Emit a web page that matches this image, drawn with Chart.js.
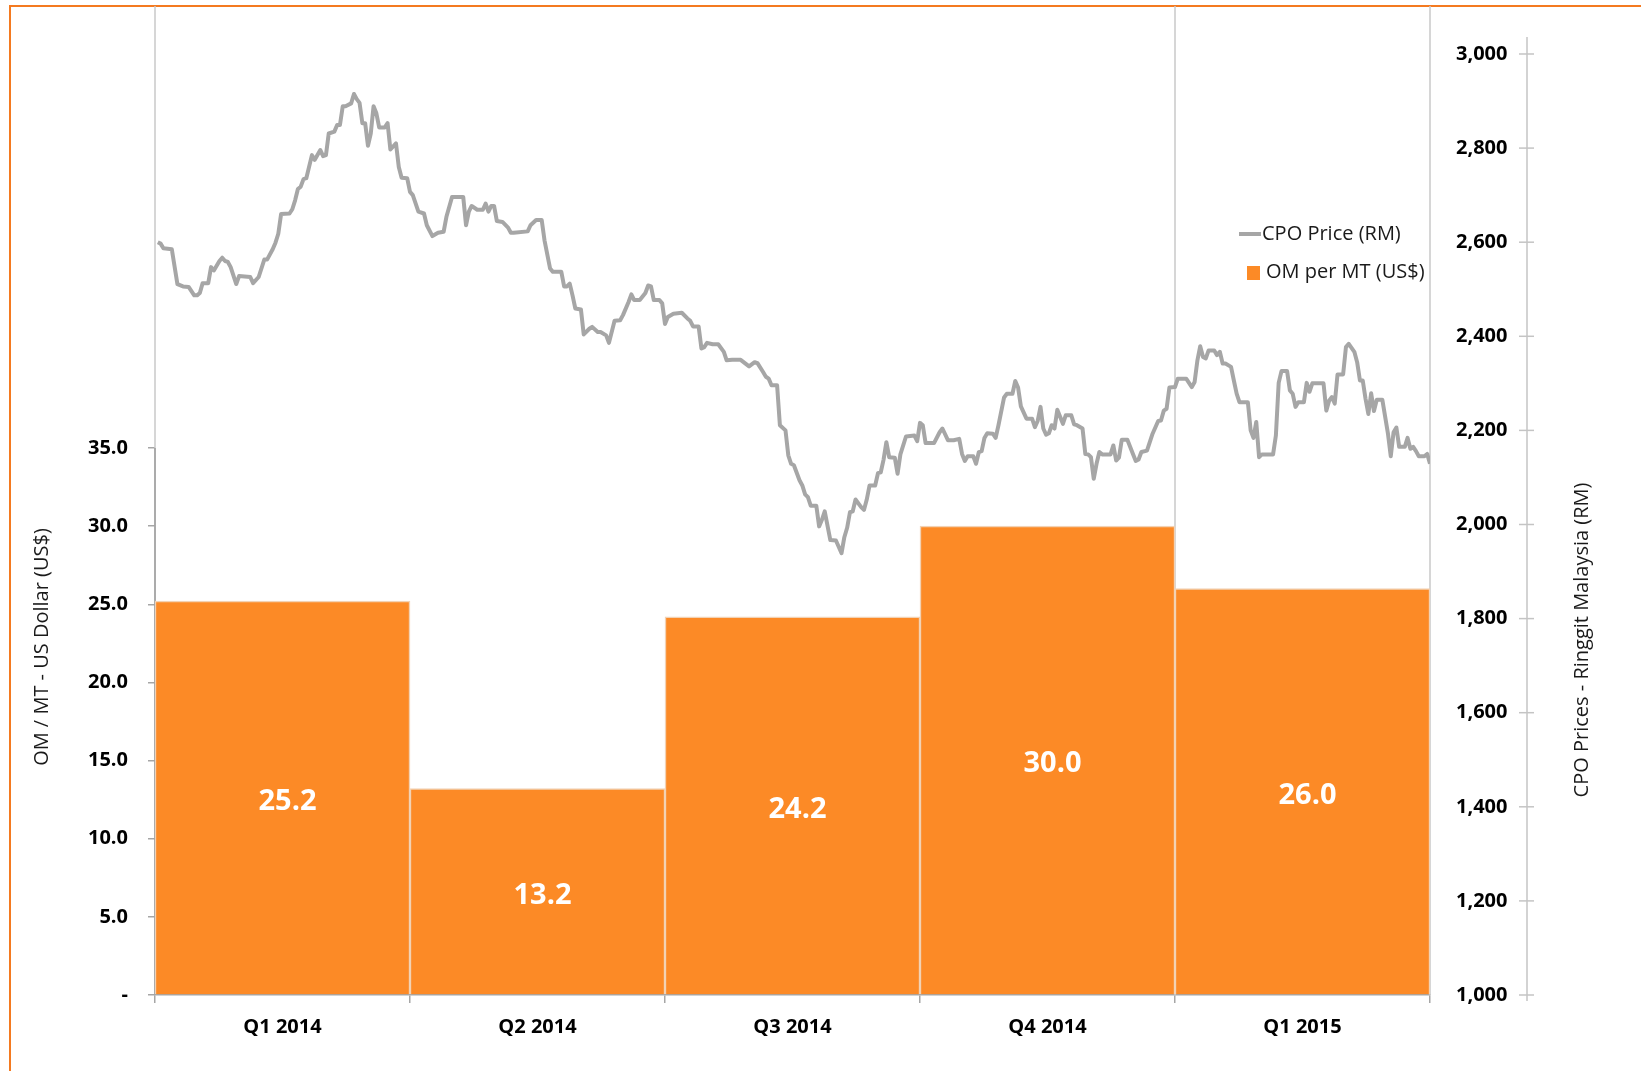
<!DOCTYPE html>
<html>
<head>
<meta charset="utf-8">
<title>OM per MT vs CPO Price</title>
<script src="https://cdn.jsdelivr.net/npm/chart.js@4.4.0/dist/chart.umd.min.js"></script>
<style>
    html, body { margin: 0; padding: 0; background: #fff; overflow: hidden; }
    #wrap { position: relative; width: 1641px; height: 1071px; }
    #frame {
        position: absolute; left: 9px; top: 5px; width: 1640px; height: 1080px;
        border-top: 2px solid #f47a20; border-left: 2px solid #f47a20;
    }
    #chart { position: absolute; left: 0; top: 0; }
</style>
</head>
<body>
<div id="wrap">
    <div id="frame"></div>
    <canvas id="chart" width="1641" height="1071"></canvas>
</div>
<script>
/* =========================================================
   DATA
========================================================= */
const quarters = ['Q1 2014', 'Q2 2014', 'Q3 2014', 'Q4 2014', 'Q1 2015'];
const omPerMt = [25.2, 13.2, 24.2, 30.0, 26.0];

// CPO price, days counted from 1 Jan 2014 (455 days to 31 Mar 2015)
const cpoDay = [
    1, 2, 3, 6, 8, 10, 12, 14, 15, 16,
    17, 19, 20, 21, 23, 24, 25, 26, 27, 29,
    30, 34, 35, 37, 39, 40, 42, 43, 44, 45,
    48, 49, 50, 51, 52, 53, 54, 56, 57, 59,
    60, 61, 62, 64, 65, 66, 67, 68, 70, 71,
    72, 73, 74, 75, 76, 77, 78, 79, 80, 82,
    83, 84, 86, 87, 88, 90, 91, 92, 94, 96,
    97, 99, 101, 103, 104, 106, 110, 111, 112, 113,
    115, 117, 118, 119, 120, 121, 122, 124, 126, 127,
    128, 133, 134, 136, 138, 139, 141, 142, 145, 146,
    147, 148, 149, 150, 152, 153, 155, 156, 158, 159,
    161, 162, 164, 166, 167, 169, 170, 171, 173, 175,
    176, 177, 178, 180, 181, 182, 183, 185, 188, 190,
    191, 192, 194, 195, 196, 197, 199, 201, 203, 204,
    206, 209, 212, 214, 215, 217, 218, 219, 220, 222,
    223, 225, 226, 227, 228, 230, 231, 232, 233, 234,
    236, 237, 238, 239, 241, 243, 245, 246, 247, 248,
    249, 250, 252, 253, 254, 255, 257, 258, 259, 260,
    261, 262, 264, 265, 266, 268, 271, 272, 273, 274,
    275, 278, 280, 281, 283, 285, 287, 288, 289, 290,
    292, 293, 294, 295, 296, 297, 299, 300, 301, 303,
    304, 306, 307, 308, 309, 311, 313, 314, 315, 316,
    317, 318, 319, 320, 321, 322, 324, 325, 327, 328,
    329, 331, 332, 333, 334, 335, 336, 337, 338, 341,
    342, 343, 344, 345, 347, 349, 350, 351, 352, 354,
    356, 358, 359, 360, 361, 362, 364, 365, 368, 370,
    371, 372, 373, 374, 375, 376, 378, 379, 380, 381,
    382, 384, 385, 386, 387, 390, 391, 392, 393, 394,
    395, 399, 400, 401, 402, 404, 405, 406, 407, 408,
    410, 411, 412, 413, 417, 418, 419, 420, 421, 422,
    424, 425, 426, 428, 429, 430, 431, 432, 433, 434,
    435, 436, 438, 440, 441, 442, 443, 444, 446, 447,
    448, 449, 450, 451, 453, 454, 455
];
const cpoPrice = [
    2600, 2597, 2587, 2585, 2511, 2506, 2505, 2487, 2487, 2492,
    2513, 2513, 2547, 2540, 2560, 2567, 2560, 2558, 2547, 2511,
    2528, 2526, 2513, 2526, 2563, 2563, 2585, 2599, 2618, 2660,
    2661, 2670, 2689, 2713, 2718, 2734, 2736, 2785, 2775, 2796,
    2783, 2785, 2831, 2835, 2849, 2849, 2889, 2889, 2895, 2915,
    2904, 2896, 2853, 2853, 2805, 2831, 2889, 2874, 2844, 2844,
    2853, 2797, 2810, 2760, 2737, 2736, 2707, 2700, 2665, 2661,
    2636, 2613, 2620, 2622, 2654, 2696, 2696, 2636, 2665, 2677,
    2669, 2669, 2682, 2665, 2677, 2677, 2645, 2643, 2631, 2620,
    2620, 2623, 2636, 2647, 2647, 2604, 2544, 2537, 2537, 2506,
    2506, 2512, 2487, 2459, 2457, 2404, 2416, 2420, 2409, 2409,
    2402, 2386, 2433, 2434, 2445, 2473, 2489, 2477, 2477, 2492,
    2508, 2506, 2477, 2477, 2470, 2426, 2441, 2448, 2450, 2438,
    2433, 2421, 2421, 2374, 2377, 2386, 2383, 2383, 2367, 2349,
    2350, 2350, 2336, 2345, 2343, 2324, 2314, 2310, 2296, 2296,
    2211, 2200, 2147, 2129, 2126, 2094, 2083, 2064, 2058, 2040,
    2040, 1996, 2010, 2028, 1967, 1966, 1939, 1973, 1993, 2026,
    2028, 2053, 2037, 2031, 2053, 2083, 2083, 2109, 2111, 2138,
    2175, 2143, 2142, 2108, 2149, 2187, 2189, 2177, 2216, 2211,
    2173, 2173, 2196, 2204, 2179, 2179, 2182, 2150, 2135, 2145,
    2145, 2129, 2154, 2156, 2184, 2194, 2193, 2184, 2211, 2270,
    2278, 2278, 2305, 2291, 2251, 2225, 2225, 2207, 2220, 2250,
    2204, 2191, 2194, 2211, 2204, 2244, 2214, 2232, 2232, 2213,
    2211, 2204, 2150, 2149, 2143, 2097, 2129, 2154, 2149, 2149,
    2168, 2136, 2142, 2180, 2180, 2150, 2135, 2138, 2154, 2157,
    2193, 2220, 2221, 2242, 2246, 2291, 2292, 2310, 2310, 2292,
    2303, 2349, 2379, 2356, 2353, 2370, 2370, 2360, 2367, 2342,
    2342, 2335, 2306, 2278, 2260, 2260, 2200, 2184, 2218, 2143,
    2149, 2149, 2189, 2301, 2326, 2326, 2285, 2278, 2250, 2260,
    2260, 2301, 2282, 2300, 2300, 2242, 2263, 2271, 2257, 2319,
    2319, 2377, 2384, 2367, 2345, 2306, 2306, 2267, 2235, 2279,
    2241, 2265, 2265, 2193, 2145, 2196, 2206, 2165, 2165, 2184,
    2161, 2165, 2156, 2145, 2145, 2150, 2129
];

const periodDays = 455;
const omTickMax = 35;       // left axis labelled 0 - 35
const cpoTickRange = [1000, 3000];

/* =========================================================
   STYLE
========================================================= */
const barColor = '#fc8a26';
const lineColor = '#a6a6a6';
const axisGray = '#a6a6a6';

Chart.defaults.font.family = "'Open Sans', sans-serif";
Chart.defaults.color = '#000';

/* =========================================================
   HELPER
========================================================= */
function strokeLine(ctx, x1, y1, x2, y2) {
    ctx.beginPath();
    ctx.moveTo(x1, y1);
    ctx.lineTo(x2, y2);
    ctx.stroke();
}

function verticalText(ctx, text, x, y) {
    ctx.save();
    ctx.translate(x, y);
    ctx.rotate(-Math.PI / 2);
    ctx.fillText(text, 0, 0);
    ctx.restore();
}

function noPadding(scale) {
    scale.paddingTop = 0;
    scale.paddingBottom = 0;
    scale.paddingLeft = 0;
    scale.paddingRight = 0;
}

/* =========================================================
   PLUGIN : frame lines, labels, titles, legend
========================================================= */
const decorations = {
    id: 'decorations',
    beforeDatasetsDraw(chart) {
        const { ctx, chartArea: a, scales } = chart;
        ctx.save();

        // year / plot edges
        ctx.strokeStyle = '#c8c8c8';
        ctx.lineWidth = 1.5;
        const yearEdge = (scales.x.getPixelForValue(3) + scales.x.getPixelForValue(4)) / 2;
        [a.left, yearEdge, a.right].forEach(px => strokeLine(ctx, px, a.top, px, a.bottom));

        // left axis line (0 - 35 only)
        ctx.strokeStyle = '#9c9c9c';
        strokeLine(ctx, a.left, scales.y.getPixelForValue(omTickMax), a.left, a.bottom);

        // right axis line with cross ticks
        const rx = a.right + 97;
        ctx.strokeStyle = '#c4c4c4';
        strokeLine(ctx, rx, a.top + 31, rx, a.bottom + 6);
        scales.y2.ticks.forEach(t => {
            const py = scales.y2.getPixelForValue(t.value);
            strokeLine(ctx, rx - 8, py, rx + 7, py);
        });
        ctx.restore();
    },
    afterDatasetsDraw(chart) {
        const { ctx } = chart;
        ctx.save();
        ctx.fillStyle = '#fff';
        ctx.font = "bold 29px 'Open Sans'";
        ctx.textAlign = 'center';
        ctx.textBaseline = 'middle';
        chart.getDatasetMeta(1).data.forEach((bar, i) => {
            ctx.fillText(omPerMt[i].toFixed(1), bar.x + 5, (bar.y + bar.base) / 2 + 4);
        });
        ctx.restore();
    },
    afterDraw(chart) {
        const { ctx, chartArea: a } = chart;
        ctx.save();
        ctx.fillStyle = '#1a1a1a';
        ctx.font = "20px 'Open Sans'";
        ctx.textAlign = 'center';
        ctx.textBaseline = 'middle';
        verticalText(ctx, 'OM / MT - US Dollar (US$)', a.left - 113, a.top + 641);
        verticalText(ctx, 'CPO Prices - Ringgit Malaysia (RM)', a.right + 152, a.top + 634);

        // legend
        const lx = a.right - 191;
        ctx.textAlign = 'left';
        ctx.strokeStyle = lineColor;
        ctx.lineWidth = 4;
        strokeLine(ctx, lx, a.top + 228, lx + 22, a.top + 228);
        ctx.fillText(chart.data.datasets[0].label, lx + 23, a.top + 228);
        ctx.fillStyle = barColor;
        ctx.fillRect(lx + 8, a.top + 260, 13, 14);
        ctx.fillStyle = '#1a1a1a';
        ctx.fillText(chart.data.datasets[1].label, lx + 27, a.top + 266);
        ctx.restore();
    }
};

/* =========================================================
   CHART INIT
========================================================= */
new Chart(document.getElementById('chart'), {
    type: 'bar',
    data: {
        labels: quarters,
        datasets: [{
            type: 'line',
            label: 'CPO Price (RM)',
            data: cpoDay.map((d, i) => ({ x: d, y: cpoPrice[i] })),
            xAxisID: 'xd',
            yAxisID: 'y2',
            borderColor: lineColor,
            borderWidth: 4,
            borderJoinStyle: 'round',
            pointRadius: 0,
            tension: 0,
            order: 0
        }, {
            label: 'OM per MT (US$)',
            data: omPerMt,
            xAxisID: 'x',
            yAxisID: 'y',
            backgroundColor: barColor,
            borderColor: '#f2d2b4',
            borderWidth: 1.5,
            grouped: false,
            barPercentage: 1,
            categoryPercentage: 1,
            order: 1
        }]
    },
    options: {
        responsive: false,
        animation: false,
        devicePixelRatio: 1,
        layout: { padding: { top: 6 } },
        plugins: {
            legend: { display: false },
            tooltip: { enabled: false }
        },
        scales: {
            x: {
                type: 'category',
                offset: true,
                grid: {
                    offset: true,
                    drawOnChartArea: false,
                    tickLength: 8,
                    color: axisGray,
                    lineWidth: 1.5
                },
                border: { color: axisGray, width: 1.5 },
                ticks: {
                    font: { size: 20, weight: 'bold' },
                    padding: 12
                },
                afterFit(s) { s.height = 76; noPadding(s); }
            },
            xd: {
                type: 'linear',
                display: false,
                offset: false,
                grid: { offset: false },
                min: 0,
                max: periodDays
            },
            y: {
                position: 'left',
                min: 0,
                max: 63.28,
                grid: {
                    drawOnChartArea: false,
                    tickLength: 7,
                    color: axisGray,
                    lineWidth: 1.5
                },
                border: { display: false },
                ticks: {
                    stepSize: 5,
                    padding: 20,
                    font: { size: 20, weight: 'bold' },
                    callback: v => v === 0 ? '-' : v.toFixed(1)
                },
                afterBuildTicks(s) { s.ticks = s.ticks.filter(t => t.value <= omTickMax); },
                afterFit(s) { s.width = 155; noPadding(s); }
            },
            y2: {
                position: 'right',
                min: cpoTickRange[0],
                max: 3102,
                grid: { display: false, drawTicks: false },
                border: { display: false },
                ticks: {
                    stepSize: 200,
                    padding: 26,
                    font: { size: 20, weight: 'bold' },
                    callback: v => v.toLocaleString('en-US')
                },
                afterBuildTicks(s) { s.ticks = s.ticks.filter(t => t.value <= cpoTickRange[1]); },
                afterFit(s) { s.width = 211; noPadding(s); }
            }
        }
    },
    plugins: [decorations]
});
</script>
</body>
</html>
